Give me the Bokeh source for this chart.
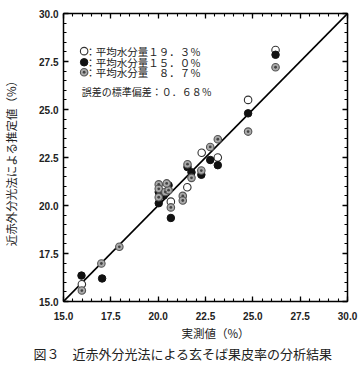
from bokeh.plotting import figure
from bokeh.models import (LinearAxis, Range1d, FixedTicker, Label, Title,
                          NumeralTickFormatter)
from bokeh.embed import file_html
from bokeh.resources import INLINE

# ---- data ----
open_x = [15.97, 20.30, 20.67, 21.54, 22.30, 23.15, 24.75, 26.20]
open_y = [15.90, 20.90, 20.20, 20.95, 22.75, 22.50, 25.50, 28.10]

filled_x = [15.95, 17.04, 20.03, 20.03, 20.29, 20.55, 20.67, 21.55, 21.76,
            22.28, 22.75, 23.15, 24.75, 26.20]
filled_y = [16.35, 16.20, 20.12, 20.70, 20.52, 21.05, 19.35, 22.00, 21.73,
            21.60, 22.37, 22.10, 24.80, 27.85]

gray_x = [15.97, 17.00, 17.95, 20.03, 20.03, 20.38, 20.55, 20.45, 20.03,
          20.67, 21.30, 21.30, 21.55, 21.76, 22.28, 22.75, 23.15, 24.75, 26.20]
gray_y = [15.57, 16.98, 17.85, 21.10, 20.87, 20.70, 20.80, 21.15, 20.43,
          19.90, 20.50, 20.26, 22.15, 21.44, 21.82, 23.05, 23.45, 23.85, 27.20]

line_x = [15.0, 30.0]
line_y = [15.0, 30.0]

major_ticks = [15.0, 17.5, 20.0, 22.5, 25.0, 27.5, 30.0]
minor_ticks = [15.0 + 0.5 * i for i in range(31)]

legend_texts = ["：平均水分量１９．３％", "：平均水分量１５．０％", "：平均水分量　８．７％"]
error_text = "誤差の標準偏差：０．６８％"
x_label = "実測値（%）"
y_label = "近赤外分光法による推定値（%）　"
caption = "図３　近赤外分光法による玄そば果皮率の分析結果"

# legend placement (annotation positions, in axis units)
legend_marker_x = 16.09
legend_text_x = 16.15
legend_y = [28.04, 27.46, 26.94]
error_y = 25.94
error_x = 15.97

JP = "Noto Sans CJK JP"

p = figure(width=364, height=367, x_range=Range1d(15, 30), y_range=Range1d(15, 30),
           output_backend="svg", toolbar_location=None,
           min_border_left=58, min_border_right=17, min_border_top=13, min_border_bottom=66,
           outline_line_color=None, background_fill_color="white",
           border_fill_color="white")
p.grid.visible = False


def style(ax, labels=True):
    ax.ticker = FixedTicker(ticks=major_ticks, minor_ticks=minor_ticks)
    ax.formatter = NumeralTickFormatter(format="0.0")
    ax.axis_line_width = 1.5
    ax.axis_line_color = "black"
    ax.major_tick_in = 5
    ax.major_tick_out = 0
    ax.minor_tick_in = 3
    ax.minor_tick_out = 0
    ax.major_tick_line_width = 1.3
    ax.minor_tick_line_width = 1.1
    ax.major_tick_line_color = "black"
    ax.minor_tick_line_color = "black"
    if labels:
        ax.major_label_text_font = "Liberation Sans"
        ax.major_label_text_font_size = "10px"
        ax.major_label_text_font_style = "bold"
        ax.major_label_text_color = "#222222"
    else:
        ax.major_label_text_font_size = "1px"
        ax.major_label_text_color = None
        ax.major_label_standoff = 0


style(p.xaxis[0])
style(p.yaxis[0])
p.xaxis[0].major_label_standoff = 10
p.yaxis[0].major_label_standoff = 5
p.yaxis[0].axis_label = y_label
p.yaxis[0].axis_label_text_font = JP
p.yaxis[0].axis_label_text_font_size = "11.5px"
p.yaxis[0].axis_label_text_font_style = "normal"
p.yaxis[0].axis_label_text_color = "#222222"
p.yaxis[0].axis_label_standoff = 17

ax_r = LinearAxis()
style(ax_r, labels=False)
p.add_layout(ax_r, "right")
ax_t = LinearAxis()
style(ax_t, labels=False)
p.add_layout(ax_t, "above")

# 1:1 line
p.line(line_x, line_y, line_color="black", line_width=1.6)

# series
p.scatter(open_x, open_y, marker="circle", size=7.5, fill_color="white",
          line_color="#333333", line_width=1.1)
p.scatter(filled_x, filled_y, marker="circle", size=7.5, fill_color="#111111",
          line_color="#111111", line_width=1)
p.scatter(gray_x, gray_y, marker="circle", size=7.5, fill_color="#aaaaaa",
          line_color="#555555", line_width=1.1)
p.scatter(gray_x, gray_y, marker="circle", size=2.8, fill_color="#444444",
          line_color=None)

# legend
lx = [legend_marker_x] * 3
p.scatter(lx[0:1], legend_y[0:1], marker="circle", size=7.5, fill_color="white",
          line_color="#333333", line_width=1.1)
p.scatter(lx[1:2], legend_y[1:2], marker="circle", size=7.5, fill_color="#111111",
          line_color="#111111")
p.scatter(lx[2:3], legend_y[2:3], marker="circle", size=7.5, fill_color="#aaaaaa",
          line_color="#555555", line_width=1.1)
p.scatter(lx[2:3], legend_y[2:3], marker="circle", size=2.8, fill_color="#444444",
          line_color=None)
for t, yy in zip(legend_texts, legend_y):
    p.add_layout(Label(x=legend_text_x, y=yy, text=t, text_font=JP,
                       text_font_size="10.5px", text_color="#222222",
                       text_baseline="middle", text_align="left"))
p.add_layout(Label(x=error_x, y=error_y, text=error_text, text_font=JP,
                   text_font_size="10px", text_color="#222222",
                   text_baseline="middle", text_align="left"))

# x label and caption below
t1 = Title(text=x_label, align="left", offset=118, text_font=JP,
           text_font_size="11.5px", text_font_style="normal", text_color="#222222",
           standoff=1)
t2 = Title(text=caption, align="left", offset=-30, text_font=JP,
           text_font_size="13px", text_font_style="normal", text_color="#222222",
           standoff=0)
p.add_layout(t1, "below")
p.add_layout(t2, "below")

open("out.html", "w").write(file_html(p, INLINE))
